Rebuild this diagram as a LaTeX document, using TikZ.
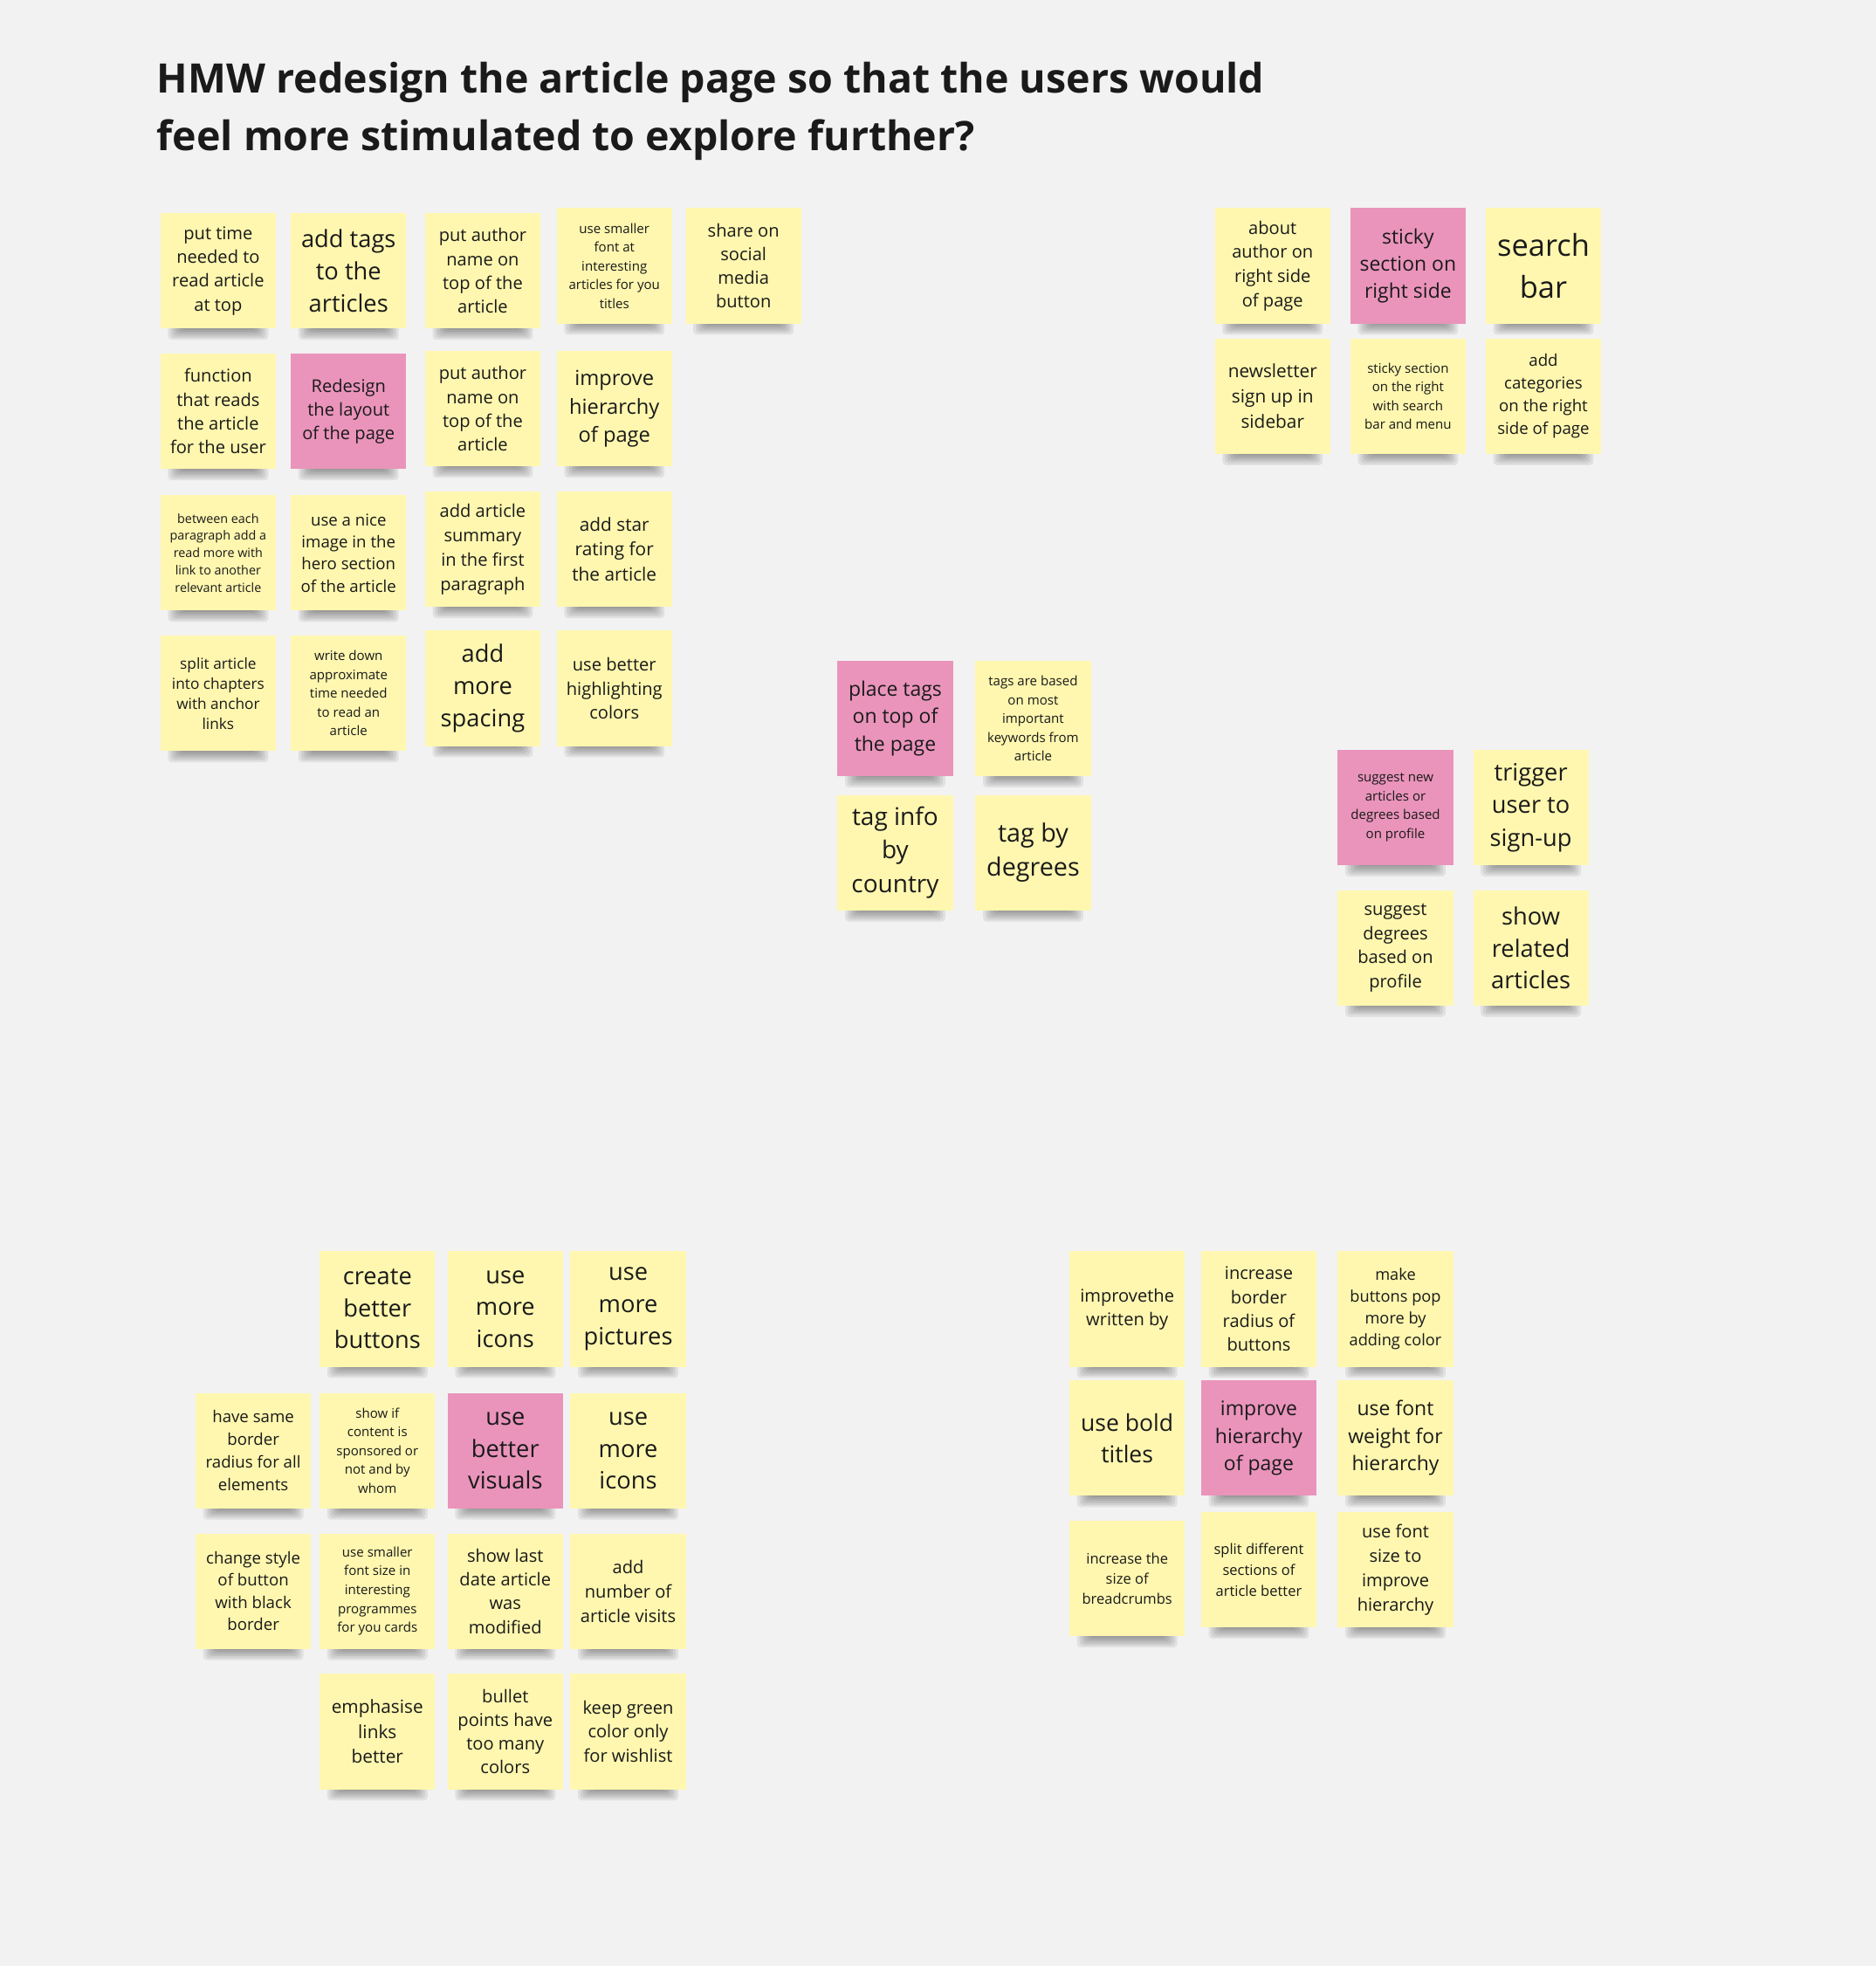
\documentclass[tikz,border=0pt]{standalone}
\usepackage{fontspec}
\setmainfont{Open Sans}
\definecolor{boardbg}{HTML}{F2F2F2}
\definecolor{yel}{HTML}{FFF7AF}
\definecolor{pnk}{HTML}{EA94BB}
\definecolor{ink}{HTML}{1A1A1A}

\tikzset{
  stk/.style={inner sep=0pt, minimum width=92pt, minimum height=92pt,
    align=center, text=ink},
  titletext/.style={anchor=base west, inner sep=0pt, text=ink,
    font=\fontsize{32.4}{44}\selectfont\bfseries},
}

% sticky note: name, left, top, colour, font size, leading, text
\newcommand{\sticky}[7]{%
  \foreach \k in {0,...,5}{
    \fill[black, opacity=0.07, rounded corners=3pt]
      (#2+6+2*\k, #3+86) rectangle (#2+86-2*\k, #3+101-1.6*\k);
  }
  \node[stk, fill=#4, font=\fontsize{#5}{#6}\selectfont] (#1) at (#2+46, #3+46) {#7};
}

\begin{document}
\begin{tikzpicture}[x=1pt, y=-1pt]
\fill[boardbg] (0,0) rectangle (1496,1568);
\useasboundingbox (0,0) rectangle (1496,1568);

% heading
\node[titletext] (title1) at (125,74) {HMW redesign the article page so that the users would};
\node[titletext] (title2) at (125,120) {feel more stimulated to explore further?};

% article page ideas
\sticky{n1}{128}{170}{yel}{14}{19}{put time\\needed to\\read article\\at top}
\sticky{n2}{232}{170}{yel}{19}{26}{add tags\\to the\\articles}
\sticky{n3}{339}{170}{yel}{14}{19}{put author\\name on\\top of the\\article}
\sticky{n4}{444}{166}{yel}{10.5}{15}{use smaller\\font at\\interesting\\articles for you\\titles}
\sticky{n5}{547}{166}{yel}{14}{19}{share on\\social\\media\\button}

\sticky{n6}{128}{282}{yel}{14}{19}{function\\that reads\\the article\\for the user}
\sticky{n7}{232}{282}{pnk}{14}{19}{Redesign\\the layout\\of the page}
\sticky{n8}{339}{280}{yel}{14}{19}{put author\\name on\\top of the\\article}
\sticky{n9}{444}{280}{yel}{16.5}{22.5}{improve\\hierarchy\\of page}

\sticky{n10}{128}{395}{yel}{10}{13.8}{between each\\paragraph add a\\read more with\\link to another\\relevant article}
\sticky{n11}{232}{395}{yel}{13}{17.7}{use a nice\\image in the\\hero section\\of the article}
\sticky{n12}{339}{392}{yel}{14}{19.5}{add article\\summary\\in the first\\paragraph}
\sticky{n13}{444}{392}{yel}{14.5}{20}{add star\\rating for\\the article}

\sticky{n14}{128}{507}{yel}{12}{16}{split article\\into chapters\\with anchor\\links}
\sticky{n15}{232}{507}{yel}{10.5}{15}{write down\\approximate\\time needed\\to read an\\article}
\sticky{n16}{339}{503}{yel}{19}{25.5}{add\\more\\spacing}
\sticky{n17}{444}{503}{yel}{14}{19}{use better\\highlighting\\colors}

% sidebar ideas
\sticky{r1}{969}{166}{yel}{14}{19.3}{about\\author on\\right side\\of page}
\sticky{r2}{1077}{166}{pnk}{16}{21.5}{sticky\\section on\\right side}
\sticky{r3}{1185}{166}{yel}{24}{33}{search\\bar}
\sticky{r4}{969}{270}{yel}{14.5}{20}{newsletter\\sign up in\\sidebar}
\sticky{r5}{1077}{270}{yel}{10.5}{15}{sticky section\\on the right\\with search\\bar and menu}
\sticky{r6}{1185}{270}{yel}{13}{18}{add\\categories\\on the right\\side of page}

% tags
\sticky{m1}{668}{527}{pnk}{16}{22}{place tags\\on top of\\the page}
\sticky{m2}{778}{527}{yel}{10.5}{15}{tags are based\\on most\\important\\keywords from\\article}
\sticky{m3}{668}{634}{yel}{19.5}{26.5}{tag info\\by\\country}
\sticky{m4}{778}{634}{yel}{20}{27}{tag by\\degrees}

% suggestions
\sticky{s1}{1067}{598}{pnk}{10.5}{15}{suggest new\\articles or\\degrees based\\on profile}
\sticky{s2}{1175}{598}{yel}{19}{26}{trigger\\user to\\sign-up}
\sticky{s3}{1067}{710}{yel}{14}{19.3}{suggest\\degrees\\based on\\profile}
\sticky{s4}{1175}{710}{yel}{19}{25.5}{show\\related\\articles}

% visuals
\sticky{b1}{255}{998}{yel}{19}{25.5}{create\\better\\buttons}
\sticky{b2}{357}{998}{yel}{19}{25.5}{use\\more\\icons}
\sticky{b3}{455}{998}{yel}{19}{25.5}{use\\more\\pictures}
\sticky{b4}{156}{1111}{yel}{13}{18}{have same\\border\\radius for all\\elements}
\sticky{b5}{255}{1111}{yel}{10.5}{15}{show if\\content is\\sponsored or\\not and by\\whom}
\sticky{b6}{357}{1111}{pnk}{19}{25.5}{use\\better\\visuals}
\sticky{b7}{455}{1111}{yel}{19}{25.5}{use\\more\\icons}
\sticky{b8}{156}{1223}{yel}{13}{17.7}{change style\\of button\\with black\\border}
\sticky{b9}{255}{1223}{yel}{10.5}{15}{use smaller\\font size in\\interesting\\programmes\\for you cards}
\sticky{b10}{357}{1223}{yel}{14}{19}{show last\\date article\\was\\modified}
\sticky{b11}{455}{1223}{yel}{14}{19.5}{add\\number of\\article visits}
\sticky{b12}{255}{1335}{yel}{14.5}{20}{emphasise\\links\\better}
\sticky{b13}{357}{1335}{yel}{14}{19}{bullet\\points have\\too many\\colors}
\sticky{b14}{455}{1335}{yel}{14}{19}{keep green\\color only\\for wishlist}

% hierarchy
\sticky{c1}{853}{998}{yel}{14}{19}{improvethe\\written by}
\sticky{c2}{958}{998}{yel}{14}{19}{increase\\border\\radius of\\buttons}
\sticky{c3}{1067}{998}{yel}{12.7}{17.3}{make\\buttons pop\\more by\\adding color}
\sticky{c4}{853}{1101}{yel}{18.5}{25}{use bold\\titles}
\sticky{c5}{958}{1101}{pnk}{16}{22}{improve\\hierarchy\\of page}
\sticky{c6}{1067}{1101}{yel}{16}{22}{use font\\weight for\\hierarchy}
\sticky{c7}{853}{1213}{yel}{11.5}{16}{increase the\\size of\\breadcrumbs}
\sticky{c8}{958}{1206}{yel}{11.5}{16.5}{split different\\sections of\\article better}
\sticky{c9}{1067}{1206}{yel}{14}{19.3}{use font\\size to\\improve\\hierarchy}
\end{tikzpicture}
\end{document}
